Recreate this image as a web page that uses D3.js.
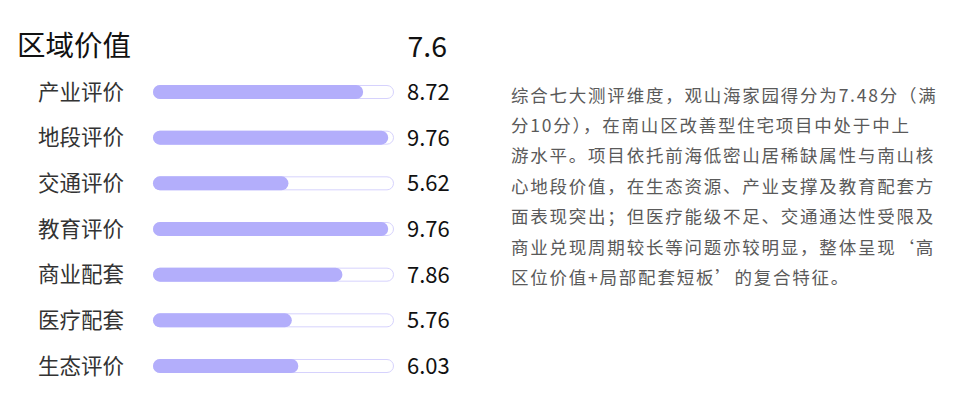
<!DOCTYPE html>
<html>
<head>
<meta charset="utf-8">
<script src="https://cdn.jsdelivr.net/npm/d3@7"></script>
<style>
  html, body { margin: 0; padding: 0; background: #fff; }
  svg { display: block; font-family: "Microsoft YaHei", "Noto Sans CJK SC", sans-serif; }
</style>
</head>
<body>
<svg id="chart" width="960" height="407"></svg>
<script>
const title = "区域价值";
const totalScore = "7.6";
const categories = ["产业评价", "地段评价", "交通评价", "教育评价", "商业配套", "医疗配套", "生态评价"];
const scores = [8.72, 9.76, 5.62, 9.76, 7.86, 5.76, 6.03];
const maxScore = 10;
const descLines = [
  "综合七大测评维度，观山海家园得分为7.48分（满",
  "分10分），在南山区改善型住宅项目中处于中上",
  "游水平。项目依托前海低密山居稀缺属性与南山核",
  "心地段价值，在生态资源、产业支撑及教育配套方",
  "面表现突出；但医疗能级不足、交通通达性受限及",
  "商业兑现周期较长等问题亦较明显，整体呈现‘高",
  "区位价值+局部配套短板’的复合特征。"
];

const svg = d3.select("#chart");

const x = d3.scaleLinear().domain([0, maxScore]).range([153, 394]);
const y = d3.scalePoint().domain(categories).range([92, 366]);
const barH = 14;
const textShift = -2;

// Title and total
svg.append("text")
  .attr("x", 17).attr("y", 43)
  .attr("dominant-baseline", "central")
  .attr("font-size", 28.5)
  .attr("fill", "#111")
  .text(title);

svg.append("text")
  .attr("x", 447).attr("y", 44)
  .attr("text-anchor", "end")
  .attr("dominant-baseline", "central")
  .attr("font-size", 28.5)
  .attr("fill", "#111")
  .text(totalScore);

const data = categories.map((c, i) => ({ c, v: scores[i] }));

const rows = svg.selectAll("g.row").data(data).join("g").attr("class", "row");

rows.append("text")
  .attr("x", 124)
  .attr("y", d => y(d.c) + textShift)
  .attr("text-anchor", "end")
  .attr("dominant-baseline", "central")
  .attr("font-size", 21.5)
  .attr("fill", "#333")
  .text(d => d.c);

rows.append("rect")
  .attr("x", x(0) + 0.5)
  .attr("y", d => y(d.c) - barH / 2 + 0.5)
  .attr("width", x(maxScore) - x(0) - 1)
  .attr("height", barH - 1)
  .attr("rx", (barH - 1) / 2)
  .attr("fill", "#fff")
  .attr("stroke", "#d6d2fd")
  .attr("stroke-width", 1);

rows.append("rect")
  .attr("x", x(0))
  .attr("y", d => y(d.c) - barH / 2)
  .attr("width", d => x(d.v) - x(0))
  .attr("height", barH)
  .attr("rx", barH / 2)
  .attr("fill", "#b3aefb");

rows.append("text")
  .attr("x", 407)
  .attr("y", d => y(d.c) + textShift)
  .attr("dominant-baseline", "central")
  .attr("font-size", 22)
  .attr("fill", "#111")
  .text(d => d.v.toFixed(2));

// Description
const desc = svg.append("g").selectAll("text").data(descLines).join("text")
  .attr("x", 511)
  .attr("y", (d, i) => 94 + i * 30.4)
  .attr("dominant-baseline", "central")
  .attr("font-size", 17.5)
  .attr("fill", "#5a5a5a")
  .text(d => d);

// fit full-width line (line 3) to reference width 424px via letter-spacing
const ref = desc.nodes()[2];
const w = ref.getComputedTextLength();
const n = descLines[2].length;
const ls = (424 - w) / n;
desc.attr("letter-spacing", ls);
</script>
</body>
</html>
